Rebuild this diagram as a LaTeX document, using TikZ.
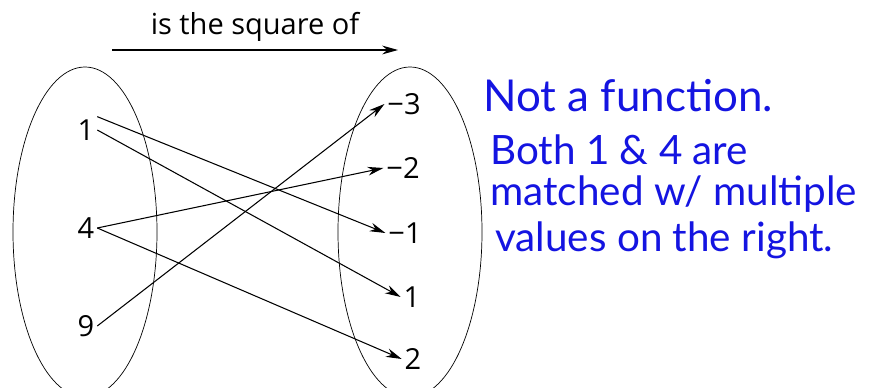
\documentclass[tikz,border=0pt]{standalone}
\usepackage{fontspec}
\setmainfont{Open Sans}
\newfontfamily\handfont{Lato}
\usetikzlibrary{arrows.meta}
\definecolor{handblue}{RGB}{20,20,225}
\begin{document}
\begin{tikzpicture}[
  x=0.02cm,y=-0.02cm,
  >={Stealth[length=9pt,width=5pt]},
  elem/.style={inner sep=1.5pt,font=\fontsize{16.5}{19}\selectfont},
  mapline/.style={->,semithick},
  note/.style={anchor=west,text=handblue,inner sep=0pt,font=\handfont\fontsize{23}{27}\selectfont}
]
  \useasboundingbox (0,0) rectangle (882,388);

  % the two sets
  \draw[thin] (85,232) ellipse [x radius=72,y radius=165];
  \draw[thin] (410,232) ellipse [x radius=72,y radius=165];

  % relation arrow on top
  \coordinate (topL) at (112,50);
  \coordinate (topR) at (398,50);
  \draw[->,semithick] (topL) -- node[above=1pt,font=\fontsize{16.5}{19}\selectfont] (rel) {is the square of} (topR);

  % domain
  \node[elem] (L1) at (86,130) {1};
  \node[elem] (L4) at (86,228) {4};
  \node[elem] (L9) at (86,326) {9};

  % range
  \node[elem] (Rm3) at (404,104) {−3};
  \node[elem] (Rm2) at (403,168) {−2};
  \node[elem] (Rm1) at (405,233) {−1};
  \node[elem] (R1)  at (412,297) {1};
  \node[elem] (R2)  at (413,359) {2};

  \draw[mapline] (L1.north east) -- (Rm1.west);
  \draw[mapline] (L1.east) -- (R1.west);
  \draw[mapline] (L4.east) -- (Rm2.west);
  \draw[mapline] (L4.east) -- (R2.west);
  \draw[mapline] (L9.east) -- (Rm3.west);

  % handwritten remark
  \node[note,font=\handfont\fontsize{25}{29}\selectfont] (n1) at (483,96) {Not a function.};
  \node[note] (n2) at (490,150) {Both 1 \& 4 are};
  \node[note] (n3) at (490,194) {matched w/ multiple};
  \node[note] (n4) at (495,240) {values on the right.};
\end{tikzpicture}
\end{document}
